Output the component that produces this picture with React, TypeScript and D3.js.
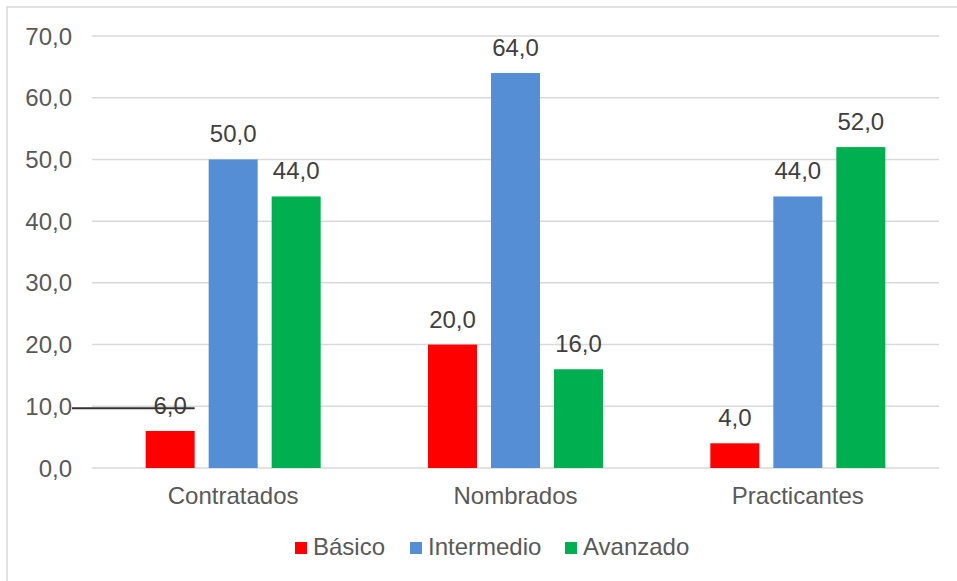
import React from 'react';
import * as d3 from 'd3';

// chart data
const categories = ['Contratados', 'Nombrados', 'Practicantes'];
const seriesNames = ['Básico', 'Intermedio', 'Avanzado'];
const basico = [6, 20, 4];
const intermedio = [50, 64, 44];
const avanzado = [44, 16, 52];
const yTicks = [0, 10, 20, 30, 40, 50, 60, 70];
const colors = ['#FF0000', '#558ED5', '#00B050'];

const W = 957;
const H = 581;
const FONT = 'Liberation Sans, Arial, sans-serif';

const fmt = (v: number) => v.toFixed(1).replace('.', ',');

export default function App() {
  const values = [basico, intermedio, avanzado];

  const x0 = d3.scaleBand<string>().domain(categories).range([92, 939]);
  const bw = x0.bandwidth();
  const groupW = 175;
  const x1 = d3
    .scaleBand<string>()
    .domain(seriesNames)
    .range([(bw - groupW) / 2, (bw + groupW) / 2])
    .paddingInner(14 / 63);
  const y = d3.scaleLinear().domain([0, 70]).range([468, 36]);

  // legend layout: square + label pairs
  const legendX = [295, 410, 565];

  return (
    <svg
      width={W}
      height={H}
      style={{ position: 'absolute', left: 0, top: 0, background: '#fff' }}
      fontFamily={FONT}
    >
      <rect x={7} y={7} width={W + 20} height={H + 20} fill="#fff" stroke="#d9d9d9" strokeWidth={1.5} />

      {/* gridlines + y labels */}
      {yTicks.map((t) => (
        <g key={t}>
          <line x1={92} x2={939} y1={y(t)} y2={y(t)} stroke="#d9d9d9" strokeWidth={1.5} />
          <text x={72} y={y(t)} dy="0.36em" textAnchor="end" fontSize={24} fill="#595959">
            {fmt(t)}
          </text>
        </g>
      ))}

      {/* bars */}
      {categories.map((c, ci) => (
        <g key={c} transform={`translate(${x0(c)},0)`}>
          {seriesNames.map((s, si) => {
            const v = values[si][ci];
            const bx = x1(s)!;
            return (
              <g key={s}>
                <rect
                  x={bx}
                  y={y(v)}
                  width={x1.bandwidth()}
                  height={y(0) - y(v)}
                  fill={colors[si]}
                />
                <text
                  x={bx + x1.bandwidth() / 2}
                  y={y(v) - 17}
                  textAnchor="middle"
                  fontSize={24}
                  fill="#404040"
                >
                  {fmt(v)}
                </text>
              </g>
            );
          })}
          <text x={bw / 2} y={504} textAnchor="middle" fontSize={24} fill="#595959">
            {c}
          </text>
        </g>
      ))}

      {/* stray line over the first label */}
      <line
        x1={72}
        x2={x0(categories[0])! + x1(seriesNames[0])! + x1.bandwidth()}
        y1={y(9.7)}
        y2={y(9.7)}
        stroke="#333"
        strokeWidth={2}
      />

      {/* legend */}
      {seriesNames.map((s, i) => (
        <g key={s}>
          <rect x={legendX[i]} y={542} width={12} height={12} fill={colors[i]} />
          <text x={legendX[i] + 18} y={555} fontSize={24} fill="#595959">
            {s}
          </text>
        </g>
      ))}
    </svg>
  );
}
